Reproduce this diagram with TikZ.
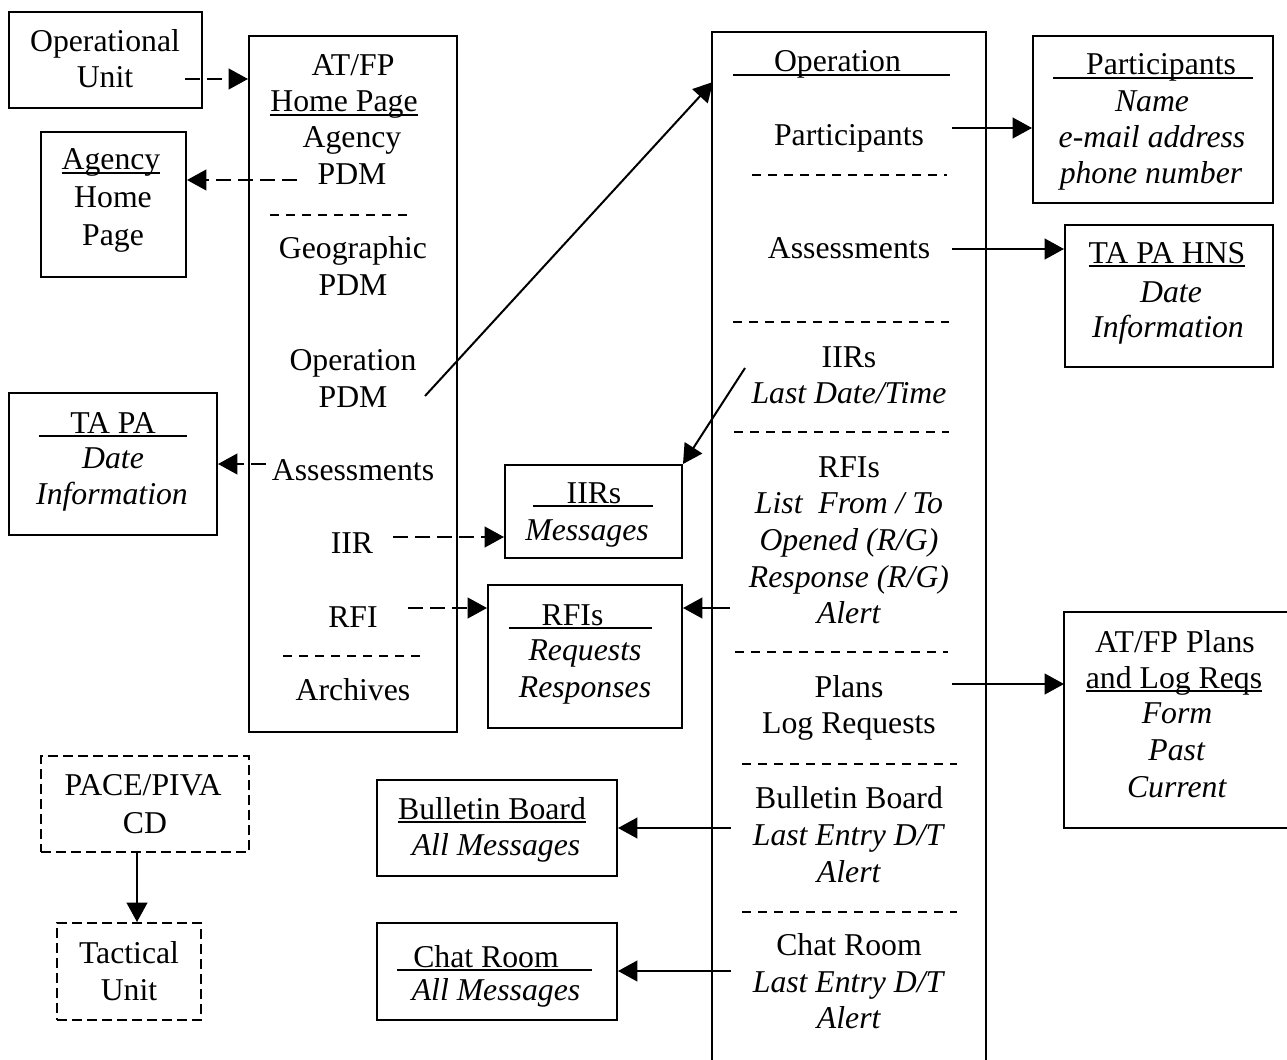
\documentclass[tikz,border=0pt]{standalone}
\usepackage{fontspec}
\setmainfont{Liberation Serif}
\usetikzlibrary{arrows.meta,fit}
\newsavebox\ulbox
\newcommand\ulx[3]{\sbox\ulbox{\hspace*{#1}#2\hspace*{#3}}\rlap{\rule[-0.13em]{\wd\ulbox}{0.065em}}\usebox\ulbox}
\newcommand\bx[6][]{\coordinate (#2-a) at (#3,#4); \coordinate (#2-b) at (#5,#6); \node[box,#1,fit=(#2-a)(#2-b)] (#2) {};}
\newcommand\tx[4]{\node[txt] (#1) at (#2,#3) {#4};}
\begin{document}
\begin{tikzpicture}[x=0.75pt, y=-0.75pt,
  txt/.style={inner sep=0pt, anchor=base, font=\fontsize{23.8pt}{27.5pt}\selectfont},
  box/.style={draw, line width=1.5pt, inner sep=0pt},
  dbox/.style={dash pattern=on 7.5pt off 3.75pt},
  sepline/.style={line width=1.5pt, dash pattern=on 7pt off 5pt},
  arr/.style={line width=1.5pt, -{Triangle[length=14.5pt,width=15.5pt]}},
  darr/.style={arr, dash pattern=on 11pt off 5.5pt}]
\useasboundingbox (0,0) rectangle (1287,1059);

% ---- boxes ----
\bx{ou}{9}{12}{202}{108}
\bx{atfp}{249}{36}{457}{732}
\bx{ahp}{41}{132}{186}{277}
\bx{tapa}{9}{393}{217}{535}
\bx{iirs}{505}{465}{682}{558}
\bx{rfis}{488}{585}{682}{728}
\bx[draw=none]{op}{713}{33}{985}{1075}
\draw[line width=1.5pt] (op.south west) |- (op.north east) -- (op.south east);
\bx{part}{1033}{36}{1273}{203}
\bx{hns}{1065}{225}{1273}{367}
\bx[draw=none]{plans}{1065}{613}{1295}{827}
\draw[line width=1.5pt] (plans.north east) -| (plans.south west) -- (plans.south east);
\bx{bb}{377}{780}{617}{876}
\bx{cr}{377}{923}{617}{1020}
\bx[dbox]{pace}{41}{756}{249}{852}
\bx[dbox]{tac}{57}{923}{201}{1020}

% ---- texts ----
\tx{ou1}{105}{52}{Operational}
\tx{ou2}{105}{88}{Unit}

\tx{a1}{353}{76}{AT/FP}
\tx{a2}{344}{112}{\ulx{0pt}{Home Page}{0pt}}
\tx{a3}{352}{148}{Agency}
\tx{a4}{352}{185}{PDM}
\tx{a5}{353}{258}{Geographic}
\tx{a6}{353}{295}{PDM}
\tx{a7}{353}{370}{Operation}
\tx{a8}{353}{407}{PDM}
\tx{a9}{353}{480}{Assessments}
\tx{a10}{352}{553}{IIR}
\tx{a11}{353}{627}{RFI}
\tx{a12}{353}{700}{Archives}

\tx{h1}{111}{170}{\ulx{0pt}{Agency}{0pt}}
\tx{h2}{113}{208}{Home}
\tx{h3}{113}{245}{Page}

\tx{t1}{113}{433}{\ulx{1em}{TA PA}{1em}}
\tx{t2}{113}{468}{\textit{Date}}
\tx{t3}{112}{504}{\textit{Information}}

\tx{i1}{593}{503}{\ulx{25.5pt}{IIRs}{24pt}}
\tx{i2}{587}{540}{\textit{Messages}}

\tx{r1}{580.5}{625}{\ulx{24.75pt}{RFIs}{36.75pt}}
\tx{r2}{585}{660}{\textit{Requests}}
\tx{r3}{585}{697}{\textit{Responses}}

\tx{o1}{841.5}{72}{\ulx{30.75pt}{Operation}{36.75pt}}
\tx{o2}{849}{146}{Participants}
\tx{o3}{849}{258}{Assessments}
\tx{o4}{849}{367}{IIRs}
\tx{o5}{849}{403}{\textit{Last Date/Time}}
\tx{o6}{849}{477}{RFIs}
\tx{o7}{849}{513}{\textit{List\ \ From / To}}
\tx{o8}{849}{550}{\textit{Opened (R/G)}}
\tx{o9}{849}{587}{\textit{Response (R/G)}}
\tx{o10}{849}{623}{\textit{Alert}}
\tx{o11}{849}{697}{Plans}
\tx{o12}{849}{733}{Log Requests}
\tx{o13}{849}{808}{Bulletin Board}
\tx{o14}{849}{845}{\textit{Last Entry D/T}}
\tx{o15}{849}{882}{\textit{Alert}}
\tx{o16}{849}{955}{Chat Room}
\tx{o17}{849}{992}{\textit{Last Entry D/T}}
\tx{o18}{849}{1028}{\textit{Alert}}

\tx{p1}{1153}{75}{\ulx{24.75pt}{Participants}{12.75pt}}
\tx{p2}{1152}{112}{\textit{Name}}
\tx{p3}{1152}{148}{\textit{e-mail address}}
\tx{p4}{1151}{184}{\textit{phone number}}

\tx{n1}{1167}{263}{\ulx{0pt}{TA PA HNS}{0pt}}
\tx{n2}{1171}{302}{\textit{Date}}
\tx{n3}{1168}{337}{\textit{Information}}

\tx{l1}{1175}{652}{AT/FP Plans}
\tx{l2}{1174}{688}{\ulx{0pt}{and Log Reqs}{0pt}}
\tx{l3}{1177}{723}{\textit{Form}}
\tx{l4}{1177}{760}{\textit{Past}}
\tx{l5}{1177}{797}{\textit{Current}}

\tx{b1}{492}{819}{\ulx{0pt}{Bulletin Board}{0pt}}
\tx{b2}{496}{855}{\textit{All Messages}}
\tx{c1}{494.5}{967}{\ulx{12pt}{Chat Room}{24.75pt}}
\tx{c2}{496}{1000}{\textit{All Messages}}

\tx{q1}{143}{795}{PACE/PIVA}
\tx{q2}{145}{833}{CD}
\tx{u1}{129}{963}{Tactical}
\tx{u2}{129}{1000}{Unit}

% ---- separators ----
\draw[sepline] (270,215) -- (410,215);
\draw[sepline] (283,656) -- (423,656);
\draw[sepline] (752,175) -- (947,175);
\draw[sepline] (733,322) -- (949,322);
\draw[sepline] (734,432) -- (949,432);
\draw[sepline] (735,652) -- (948,652);
\draw[sepline] (742,764) -- (957,764);
\draw[sepline] (742,912) -- (957,912);

% ---- connectors ----
\coordinate (s1) at (185,79);
\draw[darr] (s1) -- (s1 -| atfp.west);
\coordinate (s2) at (297,180);
\draw[darr] (s2) -- (s2 -| ahp.east);
\coordinate (s3) at (425,396);
\coordinate (e3) at (713,82);
\draw[arr] (s3) -- (e3);
\coordinate (s4) at (266,464);
\draw[darr] (s4) -- (s4 -| tapa.east);
\coordinate (s5) at (393,537);
\draw[darr] (s5) -- (s5 -| iirs.west);
\coordinate (s6) at (408,608);
\draw[darr] (s6) -- (s6 -| rfis.west);
\coordinate (s7) at (745,368);
\draw[arr] (s7) -- (iirs.north east);
\coordinate (s8) at (730,608);
\draw[arr] (s8) -- (s8 -| rfis.east);
\coordinate (s9) at (952,128);
\draw[arr] (s9) -- (s9 -| part.west);
\coordinate (s10) at (952,249);
\draw[arr] (s10) -- (s10 -| hns.west);
\coordinate (s11) at (952,684);
\draw[arr] (s11) -- (s11 -| plans.west);
\coordinate (s12) at (731,828);
\draw[arr] (s12) -- (s12 -| bb.east);
\coordinate (s13) at (731,971);
\draw[arr] (s13) -- (s13 -| cr.east);
\coordinate (s14) at (137,0);
\draw[arr] (pace.south -| s14) -- (tac.north -| s14);
\end{tikzpicture}
\end{document}
